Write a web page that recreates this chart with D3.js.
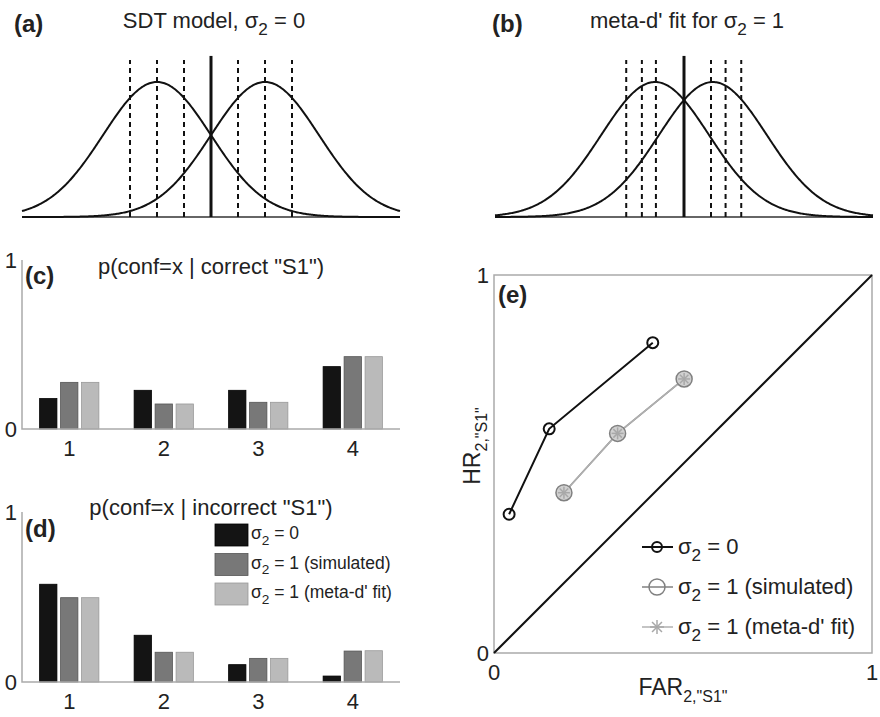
<!DOCTYPE html>
<html>
<head>
<meta charset="utf-8">
<script src="https://cdn.jsdelivr.net/npm/d3@7"></script>
<style>
  body { margin: 0; background: #fff; }
  text { font-family: "Liberation Sans", Arial, sans-serif; fill: #222; }
</style>
</head>
<body>
<div id="view"></div>
<script>
// SDT model parameters (a) and (b)
const meansA = [-1, 1];          // d' = 2
const criteriaA = [-1.5, -1, -0.5, 0.5, 1, 1.5];
const meansB = [-0.535, 0.535];  // meta-d' ~ 1.07
const criteriaB = [-1.07, -0.78, -0.52, 0.5, 0.77, 1.06];
const typeOneCrit = 0;

// bar data, panels (c) and (d)
const confLevels = [1, 2, 3, 4];
const correctSdt = [0.18, 0.229, 0.229, 0.369];
const correctSim = [0.276, 0.148, 0.158, 0.428];
const correctFit = [0.276, 0.148, 0.158, 0.428];
const incorrectSdt = [0.575, 0.275, 0.102, 0.035];
const incorrectSim = [0.496, 0.175, 0.139, 0.182];
const incorrectFit = [0.496, 0.175, 0.139, 0.184];

// type 2 ROC, panel (e)
const far0 = [0.040, 0.146, 0.420];
const hr0 = [0.367, 0.593, 0.821];
const farSim = [0.185, 0.327, 0.503];
const hrSim = [0.424, 0.581, 0.725];
const farFit = [0.185, 0.327, 0.503];
const hrFit = [0.424, 0.581, 0.725];

const seriesNames = ["0", "1 (simulated)", "1 (meta-d' fit)"];
const barColors = ["#141414", "#787878", "#bababa"];
const barEdges = ["#000", "#555", "#999"];
const axisGray = "#aaa";

const svg = d3.select("#view").append("svg")
    .attr("width", 880).attr("height", 717);

// sigma with subscript 2, followed by rest of text
function sigmaText(sel, rest, size) {
    sel.append("tspan").text("σ");
    sel.append("tspan").attr("font-size", size * 0.78).attr("dy", size * 0.32).text("2");
    sel.append("tspan").attr("dy", -size * 0.32).text(" = " + rest);
}

function panelLabel(x, y, s) {
    svg.append("text").attr("x", x).attr("y", y)
        .attr("font-size", 24).attr("font-weight", "bold").text(s);
}

// ---------- panels (a) and (b): gaussian distributions ----------
function pdf(x, m) {
    return Math.exp(-0.5 * (x - m) * (x - m)) / Math.sqrt(2 * Math.PI);
}

function sdtPanel(x0, x1, means, crits, title, rest) {
    const x = d3.scaleLinear().domain([-3.5, 3.5]).range([x0, x1]);
    const y = d3.scaleLinear().domain([0, 0.5]).range([217, 217 - 0.5 * 338.4]);
    const g = svg.append("g");

    g.append("line")
        .attr("x1", x0).attr("x2", x1).attr("y1", y(0)).attr("y2", y(0))
        .attr("stroke", "#333").attr("stroke-width", 1.5);

    const xs = d3.range(-3.5, 3.5001, 0.02);
    means.forEach(m => {
        g.append("path")
            .datum(xs)
            .attr("fill", "none")
            .attr("stroke", "#111")
            .attr("stroke-width", 2)
            .attr("d", d3.line().x(d => x(d)).y(d => y(pdf(d, m))));
    });

    crits.forEach(c => {
        g.append("line")
            .attr("x1", x(c)).attr("x2", x(c)).attr("y1", y(0)).attr("y2", y(0.464))
            .attr("stroke", "#111").attr("stroke-width", 2)
            .attr("stroke-dasharray", "5,4");
    });
    g.append("line")
        .attr("x1", x(typeOneCrit)).attr("x2", x(typeOneCrit))
        .attr("y1", y(0)).attr("y2", y(0.476))
        .attr("stroke", "#111").attr("stroke-width", 3);

    const t = svg.append("text")
        .attr("x", (x0 + x1) / 2 + 3).attr("y", 28)
        .attr("text-anchor", "middle").attr("font-size", 22);
    t.append("tspan").text(title);
    sigmaText(t, rest, 22);
}

sdtPanel(22, 400, meansA, criteriaA, "SDT model, ", "0");
sdtPanel(495, 873, meansB, criteriaB, "meta-d' fit for ", "1");
panelLabel(14, 32, "(a)");
panelLabel(492, 32, "(b)");

// ---------- panels (c) and (d): bar charts ----------
function barPanel(yTop, yBottom, groups, title, titleY) {
    const x = d3.scaleLinear().domain([0.5, 4.5]).range([22, 400]);
    const y = d3.scaleLinear().domain([0, 1]).range([yBottom, yTop]);
    const g = svg.append("g");
    const offsets = [-0.222, 0, 0.222];
    const w = 0.183;

    groups.forEach((vals, k) => {
        g.selectAll(null).data(vals).enter().append("rect")
            .attr("x", (d, i) => x(confLevels[i] + offsets[k] - w / 2))
            .attr("width", x(w) - x(0))
            .attr("y", d => y(d))
            .attr("height", d => y(0) - y(d))
            .attr("fill", barColors[k])
            .attr("stroke", barEdges[k])
            .attr("stroke-width", 0.8);
    });

    g.append("path")
        .attr("d", `M${x(0.5)},${y(1)}V${y(0)}H${x(4.5)}`)
        .attr("fill", "none").attr("stroke", axisGray).attr("stroke-width", 1.5);

    g.selectAll(null).data(confLevels).enter().append("text")
        .attr("x", d => x(d)).attr("y", y(0) + 27)
        .attr("text-anchor", "middle").attr("font-size", 22)
        .text(d => d);
    g.selectAll(null).data([0, 1]).enter().append("text")
        .attr("x", 17).attr("y", d => y(d) + 8)
        .attr("text-anchor", "end").attr("font-size", 22)
        .text(d => d);

    svg.append("text").attr("x", 211).attr("y", titleY)
        .attr("text-anchor", "middle").attr("font-size", 22).text(title);
}

barPanel(260, 429, [correctSdt, correctSim, correctFit], 'p(conf=x | correct "S1")', 274);
barPanel(512, 682, [incorrectSdt, incorrectSim, incorrectFit], 'p(conf=x | incorrect "S1")', 515);
panelLabel(25, 284, "(c)");
panelLabel(25, 537, "(d)");

// legend in (d)
seriesNames.forEach((name, i) => {
    const ly = 524 + i * 29.5;
    svg.append("rect")
        .attr("x", 215).attr("y", ly).attr("width", 33).attr("height", 22)
        .attr("fill", barColors[i]).attr("stroke", barEdges[i]).attr("stroke-width", 0.8);
    const t = svg.append("text").attr("x", 251).attr("y", ly + 15).attr("font-size", 17.5);
    sigmaText(t, name, 17.5);
});

// ---------- panel (e): type 2 ROC ----------
const xe = d3.scaleLinear().domain([0, 1]).range([494, 872]);
const ye = d3.scaleLinear().domain([0, 1]).range([653, 275]);
const ge = svg.append("g");

ge.append("rect")
    .attr("x", xe(0)).attr("y", ye(1))
    .attr("width", xe(1) - xe(0)).attr("height", ye(0) - ye(1))
    .attr("fill", "none").attr("stroke", axisGray).attr("stroke-width", 1.5);

ge.append("line")
    .attr("x1", xe(0)).attr("y1", ye(0)).attr("x2", xe(1)).attr("y2", ye(1))
    .attr("stroke", "#111").attr("stroke-width", 2);

function asterisk(g, cx, cy, r, color) {
    d3.range(4).forEach(k => {
        const a = k * Math.PI / 4;
        g.append("line")
            .attr("x1", cx - r * Math.cos(a)).attr("y1", cy - r * Math.sin(a))
            .attr("x2", cx + r * Math.cos(a)).attr("y2", cy + r * Math.sin(a))
            .attr("stroke", color).attr("stroke-width", 1.5);
    });
}

const rocLine = d3.line().x(d => xe(d[0])).y(d => ye(d[1]));
const pts0 = d3.zip(far0, hr0);
const ptsSim = d3.zip(farSim, hrSim);
const ptsFit = d3.zip(farFit, hrFit);

ge.append("path").datum(ptsSim).attr("d", rocLine)
    .attr("fill", "none").attr("stroke", "#808080").attr("stroke-width", 1.5);
ge.append("path").datum(ptsFit).attr("d", rocLine)
    .attr("fill", "none").attr("stroke", "#b0b0b0").attr("stroke-width", 1.5);
ptsSim.forEach(p => {
    ge.append("circle").attr("cx", xe(p[0])).attr("cy", ye(p[1])).attr("r", 8)
        .attr("fill", "#d0d0d0").attr("stroke", "#808080").attr("stroke-width", 1.5);
});
ptsFit.forEach(p => asterisk(ge, xe(p[0]), ye(p[1]), 6, "#a8a8a8"));

ge.append("path").datum(pts0).attr("d", rocLine)
    .attr("fill", "none").attr("stroke", "#111").attr("stroke-width", 2);
pts0.forEach(p => {
    ge.append("circle").attr("cx", xe(p[0])).attr("cy", ye(p[1])).attr("r", 5.5)
        .attr("fill", "none").attr("stroke", "#111").attr("stroke-width", 2);
});

// tick labels
[[0, "0"], [1, "1"]].forEach(([v, s]) => {
    svg.append("text").attr("x", xe(0) - 5).attr("y", ye(v) + 8)
        .attr("text-anchor", "end").attr("font-size", 22).text(s);
    svg.append("text").attr("x", xe(v)).attr("y", ye(0) + 27)
        .attr("text-anchor", "middle").attr("font-size", 22).text(s);
});

// axis labels
const xl = svg.append("text").attr("x", 683).attr("y", 695)
    .attr("text-anchor", "middle").attr("font-size", 23);
xl.append("tspan").text("FAR");
xl.append("tspan").attr("font-size", 16).attr("dy", 7).text('2,"S1"');

const yl = svg.append("text")
    .attr("transform", "translate(480,446) rotate(-90)")
    .attr("text-anchor", "middle").attr("font-size", 23);
yl.append("tspan").text("HR");
yl.append("tspan").attr("font-size", 16).attr("dy", 7).text('2,"S1"');

panelLabel(498, 303, "(e)");

// legend in (e)
const legY = [547, 587, 627];
const legColors = ["#111", "#808080", "#b0b0b0"];
seriesNames.forEach((name, i) => {
    ge.append("line")
        .attr("x1", 642).attr("x2", 673).attr("y1", legY[i]).attr("y2", legY[i])
        .attr("stroke", legColors[i]).attr("stroke-width", i === 0 ? 2 : 1.5);
    if (i === 0) {
        ge.append("circle").attr("cx", 657).attr("cy", legY[i]).attr("r", 5)
            .attr("fill", "none").attr("stroke", "#111").attr("stroke-width", 2);
    } else if (i === 1) {
        ge.append("circle").attr("cx", 657).attr("cy", legY[i]).attr("r", 8)
            .attr("fill", "none").attr("stroke", "#808080").attr("stroke-width", 1.5);
    } else {
        asterisk(ge, 657, legY[i], 7, "#a8a8a8");
    }
    const t = svg.append("text").attr("x", 678).attr("y", legY[i] + 7).attr("font-size", 22);
    sigmaText(t, name, 22);
});
</script>
</body>
</html>
